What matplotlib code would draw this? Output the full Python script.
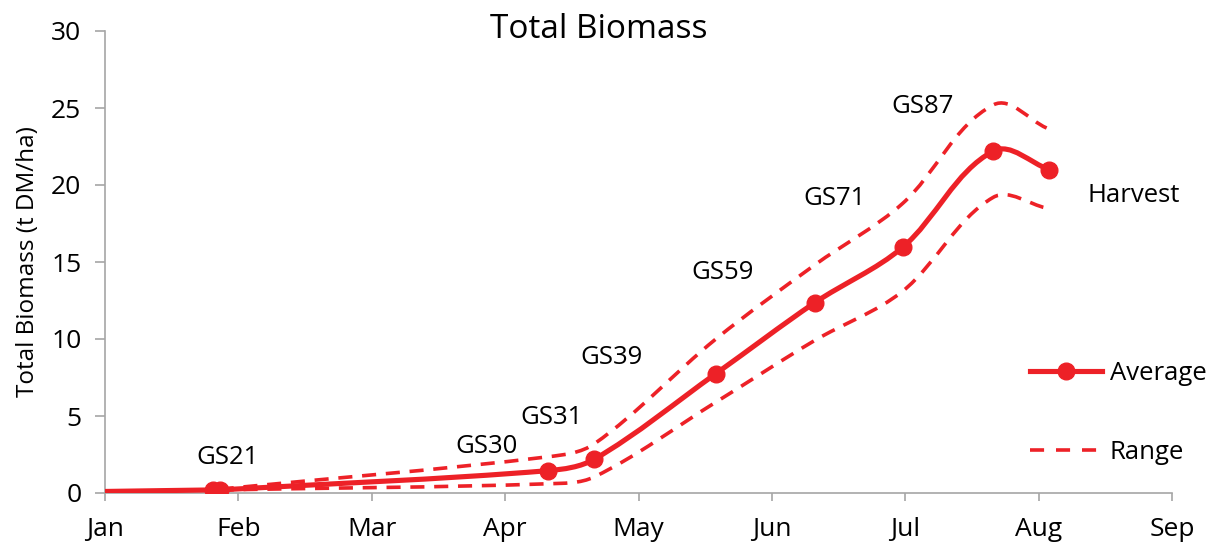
import numpy as np
import matplotlib
matplotlib.use("Agg")
import matplotlib.pyplot as plt
from matplotlib.path import Path
from matplotlib.patches import PathPatch
from matplotlib.lines import Line2D

plt.rcParams['font.family'] = ['Open Sans', 'DejaVu Sans']

# x positions in months since 1 Jan (0 = Jan, 8 = Sep)
months = ["Jan", "Feb", "Mar", "Apr", "May", "Jun", "Jul", "Aug", "Sep"]

avg_x = [0.0, 0.81, 0.86, 3.32, 3.67, 4.58, 5.32, 5.98, 6.66, 7.08]
avg_y = [0.1, 0.2, 0.2, 1.45, 2.2, 7.75, 12.35, 15.95, 22.2, 21.0]

range_x = [0.86, 3.32, 3.67, 4.58, 5.32, 5.98, 6.66, 7.06]
upper_y = [0.25, 2.35, 3.2, 10.0, 14.8, 18.8, 25.2, 23.7]
lower_y = [0.2, 0.6, 1.05, 5.9, 9.9, 13.1, 19.2, 18.5]

stages = ["GS21", "GS30", "GS31", "GS39", "GS59", "GS71", "GS87", "Harvest"]
stage_x = [0.915, 2.86, 3.35, 3.80, 4.63, 5.47, 6.13, 7.71]
stage_y = [2.3, 3.0, 4.9, 8.8, 14.35, 19.15, 25.1, 19.35]

red = '#ed2127'
grey = '#a6a6a6'


def smooth_path(xs, ys, sx=133.4, sy=15.4):
    # smoothed line like Excel: Bezier segments, tangents worked out in screen-ish units
    p = np.column_stack([np.array(xs) * sx, np.array(ys) * sy])
    n = len(p)
    tang = []
    for i in range(n):
        a = p[max(i - 1, 0)]
        b = p[min(i + 1, n - 1)]
        t = b - a
        tang.append(t / np.hypot(*t))
    verts = [p[0]]
    codes = [Path.MOVETO]
    for i in range(n - 1):
        d = np.hypot(*(p[i + 1] - p[i])) / 3
        verts += [p[i] + tang[i] * d, p[i + 1] - tang[i + 1] * d, p[i + 1]]
        codes += [Path.CURVE4] * 3
    verts = np.array(verts) / [sx, sy]
    return Path(verts, codes)


fig = plt.figure(figsize=(12.11, 5.44), dpi=100)
ax = fig.add_axes([105 / 1211, 1 - 493 / 544, (1172 - 105) / 1211, (493 - 31) / 544])

dash = (0, (3.9, 2.7))
for ys in (upper_y, lower_y):
    ax.add_patch(PathPatch(smooth_path(range_x, ys), fill=False, edgecolor=red,
                           lw=2.6, linestyle=dash, capstyle='butt', zorder=2))

ax.add_patch(PathPatch(smooth_path(avg_x, avg_y), fill=False, edgecolor=red,
                       lw=3.7, zorder=3, capstyle='butt'))
ax.plot(avg_x[1:], avg_y[1:], 'o', color=red, markersize=12, zorder=4)

for s, x, y in zip(stages, stage_x, stage_y):
    ax.text(x, y, s, ha='center', va='center', fontsize=18.5)

ax.set_xlim(0, 8)
ax.set_ylim(0, 30)
ax.set_xticks(range(9))
ax.set_xticklabels(months)
ax.set_yticks(range(0, 31, 5))

for side in ('top', 'right'):
    ax.spines[side].set_visible(False)
for side in ('left', 'bottom'):
    ax.spines[side].set_color(grey)
    ax.spines[side].set_linewidth(1.2)
ax.tick_params(axis='both', colors=grey, labelcolor='black', width=1.2, labelsize=19)
ax.tick_params(axis='y', length=7, pad=10)
ax.tick_params(axis='x', length=6, pad=11)

ax.set_ylabel("Total Biomass (t DM/ha)", fontsize=17.5, labelpad=8)
fig.text(599 / 1211, 1 - 30 / 544, "Total Biomass", ha='center', va='center', fontsize=24)

handles = [
    Line2D([], [], color=red, lw=3.7, marker='o', markersize=12),
    Line2D([], [], color=red, lw=2.6, linestyle=(0, (3.9, 3.3))),
]
ax.legend(handles, ["Average", "Range"], loc='upper left',
          bbox_to_anchor=(1030 / 1211, 1 - 361 / 544), bbox_transform=fig.transFigure,
          frameon=False, fontsize=18.5, handlelength=2.8, handletextpad=0.3,
          labelspacing=2.1, borderpad=0, borderaxespad=0)

fig.savefig("out.png", dpi=100)
